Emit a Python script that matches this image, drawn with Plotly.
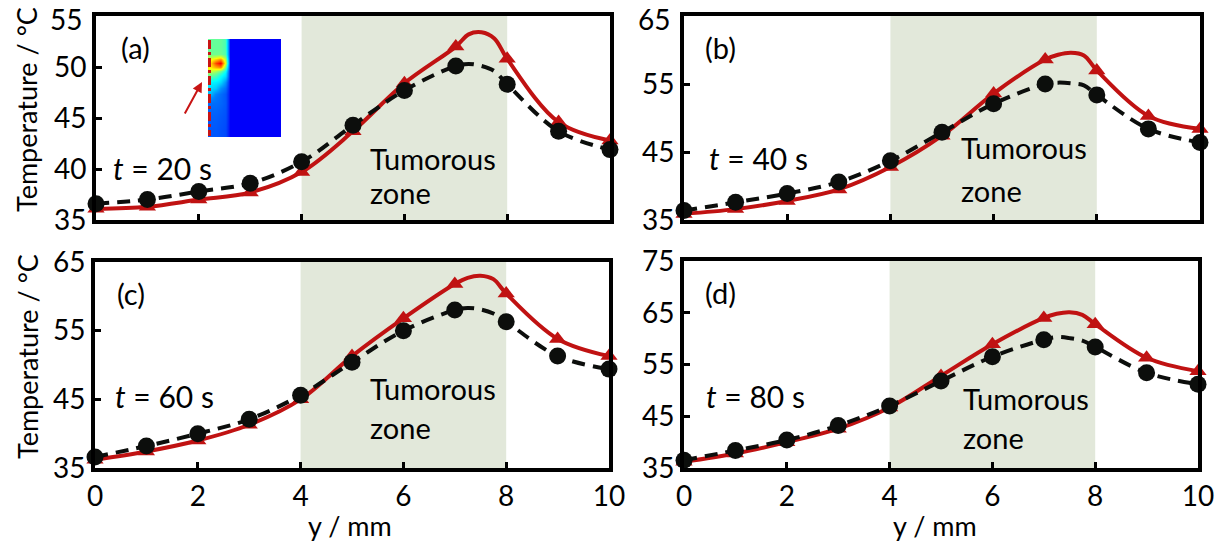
import plotly.graph_objects as go

W, H = 1218, 544

# ---------------- data ----------------
y_mm = [0, 1, 2, 3, 4, 5, 6, 7, 8, 9, 10]
peak_xs = [7.25, 7.5, 7.75]          # extra curve samples around the maximum

red_a = [36.1, 36.3, 37.0, 37.7, 39.7, 43.7, 48.4, 52.0, 50.8, 44.6, 42.8]
black_a = [36.6, 37.0, 37.8, 38.6, 40.7, 44.3, 47.7, 50.1, 48.3, 43.7, 41.9]
red_peak_a = [53.2, 53.4, 52.8]
black_peak_a = [50.3, 50.1, 49.6]

red_b = [35.9, 36.6, 37.8, 39.5, 42.8, 47.4, 53.6, 58.6, 57.0, 50.3, 48.4]
black_b = [36.4, 37.6, 38.9, 40.6, 43.7, 47.9, 52.1, 55.0, 53.4, 48.4, 46.4]
red_peak_b = [59.3, 59.6, 59.2]
black_peak_b = [55.2, 55.1, 54.8]

red_c = [36.2, 37.4, 39.0, 41.3, 45.0, 51.3, 56.8, 61.8, 60.4, 53.8, 51.3]
black_c = [36.6, 38.2, 40.0, 42.1, 45.6, 50.4, 55.0, 58.0, 56.3, 51.3, 49.4]
red_peak_c = [62.7, 63.0, 62.5]
black_peak_c = [58.3, 58.1, 57.5]

red_d = [36.2, 37.8, 40.0, 42.6, 46.7, 52.8, 58.9, 64.0, 62.8, 56.3, 53.7]
black_d = [36.5, 38.4, 40.4, 43.2, 47.0, 51.8, 56.5, 59.8, 58.4, 53.4, 51.2]
red_peak_d = [64.8, 65.1, 64.6]
black_peak_d = [60.3, 60.1, 59.6]

y_ranges = [[35, 55], [35, 65], [35, 65], [35, 75]]
y_ticks = [[35, 40, 45, 50, 55], [35, 45, 55, 65], [35, 45, 55, 65], [35, 45, 55, 65, 75]]
x_ticks = [0, 2, 4, 6, 8, 10]
tumor_zone = [4, 8]
panel_labels = ["(a)", "(b)", "(c)", "(d)"]
times = ["20", "40", "60", "80"]

# inset temperature field (normalised), cell edges in inset pixels
inset_x_edges = [0, 5, 10, 15, 20, 24, 73]
inset_y_edges = [0, 6, 12, 18, 22, 26, 30, 34, 40, 46, 52, 58, 70, 84, 98]
inset_field = [
    [0.45, 0.45, 0.45, 0.42, 0.0, 0.0],
    [0.45, 0.45, 0.45, 0.42, 0.0, 0.0],
    [0.46, 0.46, 0.46, 0.43, 0.0, 0.0],
    [0.58, 0.64, 0.70, 0.52, 0.0, 0.0],
    [0.64, 0.78, 0.86, 0.56, 0.0, 0.0],
    [0.62, 0.68, 0.72, 0.46, 0.0, 0.0],
    [0.55, 0.52, 0.46, 0.36, 0.0, 0.0],
    [0.44, 0.42, 0.36, 0.30, 0.0, 0.0],
    [0.34, 0.33, 0.30, 0.20, 0.0, 0.0],
    [0.30, 0.28, 0.20, 0.15, 0.0, 0.0],
    [0.25, 0.18, 0.15, 0.12, 0.0, 0.0],
    [0.15, 0.15, 0.14, 0.12, 0.0, 0.0],
    [0.13, 0.13, 0.12, 0.11, 0.0, 0.0],
    [0.12, 0.12, 0.11, 0.10, 0.0, 0.0],
]

reds = [red_a, red_b, red_c, red_d]
blacks = [black_a, black_b, black_c, black_d]
red_peaks = [red_peak_a, red_peak_b, red_peak_c, red_peak_d]
black_peaks = [black_peak_a, black_peak_b, black_peak_c, black_peak_d]

# ---------------- style ----------------
FONT = "Lato"
RED = "rgb(192,18,18)"
BLK = "rgb(12,14,12)"
SHADE = "rgb(226,232,218)"

def px_x(p):
    return p / W

def px_y(p):
    return 1 - p / H

# plot areas in pixels: (left, right, top, bottom)
boxes = [(96, 610, 16, 220), (684, 1200, 16, 220), (95, 609, 262, 468), (684, 1198, 261, 468)]

fig = go.Figure()
layout = dict(
    width=W, height=H, margin=dict(l=0, r=0, t=0, b=0, pad=0, autoexpand=False),
    autosize=False,
    paper_bgcolor="white", plot_bgcolor="white", showlegend=False,
    font=dict(family=FONT, size=28, color="black"),
    shapes=[], annotations=[],
)

for i in range(4):
    xa = "x" if i == 0 else f"x{i+1}"
    ya = "y" if i == 0 else f"y{i+1}"
    xk = "xaxis" if i == 0 else f"xaxis{i+1}"
    yk = "yaxis" if i == 0 else f"yaxis{i+1}"
    l, r, t, b = boxes[i]
    bottom = i >= 2
    top_row = i < 2
    # in the top row the uppermost tick label would touch the page edge:
    # it is written as a text placed flush with the top instead
    ytext = [str(v) for v in y_ticks[i]]
    if top_row:
        ytext[-1] = ""
        layout["annotations"].append(dict(
            text=str(y_ticks[i][-1]), xref="paper", yref="paper", x=px_x(l - 12), y=1,
            xanchor="right", yanchor="top", showarrow=False,
            font=dict(family=FONT, size=28, color="black")))
    layout[xk] = dict(
        domain=[px_x(l), px_x(r)], range=[0, 10], anchor=ya, automargin=False,
        tickvals=x_ticks, ticks="inside", ticklen=6, tickwidth=3, tickcolor="black",
        showticklabels=bottom, showline=True, linewidth=4, linecolor="black",
        mirror=True, showgrid=False, zeroline=False, ticklabeloverflow="allow",
        tickfont=dict(family=FONT, size=28, color="black"),
    )
    layout[yk] = dict(
        domain=[px_y(b), px_y(t)], range=y_ranges[i], anchor=xa, automargin=False,
        tickvals=y_ticks[i], ticktext=ytext, ticks="inside", ticklen=6, tickwidth=3,
        tickcolor="black", showline=True, linewidth=4, linecolor="black", mirror=True,
        showgrid=False, zeroline=False, ticklabeloverflow="allow",
        tickfont=dict(family=FONT, size=28, color="black"),
    )
    layout["shapes"].append(dict(
        type="rect", xref=xa, yref=f"{ya} domain", x0=tumor_zone[0], x1=tumor_zone[1],
        y0=0, y1=1, fillcolor=SHADE, line=dict(width=0), layer="below",
    ))

    line_x = y_mm[:8] + peak_xs + y_mm[8:]
    red_line = reds[i][:8] + red_peaks[i] + reds[i][8:]
    blk_line = blacks[i][:8] + black_peaks[i] + blacks[i][8:]

    fig.add_trace(go.Scatter(x=line_x, y=red_line, mode="lines", xaxis=xa, yaxis=ya,
                             line=dict(color=RED, width=4, shape="spline", smoothing=1.0),
                             cliponaxis=False))
    fig.add_trace(go.Scatter(x=y_mm, y=reds[i], mode="markers", xaxis=xa, yaxis=ya,
                             marker=dict(symbol="triangle-up", size=15, color=RED),
                             cliponaxis=False))
    fig.add_trace(go.Scatter(x=line_x, y=blk_line, mode="lines", xaxis=xa, yaxis=ya,
                             line=dict(color=BLK, width=4, shape="spline", smoothing=1.0,
                                       dash="13px,8px"),
                             cliponaxis=False))
    fig.add_trace(go.Scatter(x=y_mm, y=blacks[i], mode="markers", xaxis=xa, yaxis=ya,
                             marker=dict(symbol="circle", size=17, color=BLK),
                             cliponaxis=False))

lab_pos = [(135, 47), (720, 47), (131, 293), (720, 292)]
t_pos = [(111, 168), (707, 158), (113, 396), (704, 396)]
tum_pos = [(368, 159), (959, 148), (368, 388), (961, 398)]
zone_pos = [(368, 192), (959, 190), (368, 427), (961, 437)]
for i in range(4):
    layout["annotations"].append(dict(
        text=panel_labels[i], xref="paper", yref="paper", x=px_x(lab_pos[i][0]),
        y=px_y(lab_pos[i][1]), xanchor="center", yanchor="middle", showarrow=False,
        font=dict(family=FONT, size=29, color="black")))
    layout["annotations"].append(dict(
        text=f"<i>t</i> = {times[i]} s", xref="paper", yref="paper", x=px_x(t_pos[i][0]),
        y=px_y(t_pos[i][1]), xanchor="left", yanchor="middle", showarrow=False,
        font=dict(family=FONT, size=30, color="black")))
    for txt, pos in (("Tumorous", tum_pos[i]), ("zone", zone_pos[i])):
        layout["annotations"].append(dict(
            text=txt, xref="paper", yref="paper", x=px_x(pos[0]), y=px_y(pos[1]),
            xanchor="left", yanchor="middle", showarrow=False,
            font=dict(family=FONT, size=29, color="black")))

for yc in (110, 357):
    layout["annotations"].append(dict(
        text="Temperature / °C", xref="paper", yref="paper", x=px_x(27), y=px_y(yc),
        textangle=-90, xanchor="center", yanchor="middle", showarrow=False,
        font=dict(family=FONT, size=27, color="black")))
for xc in (350, 935):
    layout["annotations"].append(dict(
        text="y / mm", xref="paper", yref="paper", x=px_x(xc), y=px_y(525),
        xanchor="center", yanchor="middle", showarrow=False,
        font=dict(family=FONT, size=27, color="black")))

# inset heatmap
layout["xaxis5"] = dict(domain=[px_x(208), px_x(281)], anchor="y5", visible=False,
                        range=[0, 73], automargin=False)
layout["yaxis5"] = dict(domain=[px_y(137), px_y(39)], anchor="x5", visible=False,
                        range=[98, 0], automargin=False)
fig.add_trace(go.Heatmap(
    z=inset_field, x=inset_x_edges, y=inset_y_edges, xaxis="x5", yaxis="y5",
    zmin=0, zmax=1, zsmooth="best", showscale=False, hoverinfo="skip",
    colorscale=[[0, "rgb(0,0,250)"], [0.35, "rgb(0,255,255)"], [0.6, "rgb(255,255,0)"],
                [0.85, "rgb(255,0,0)"], [1, "rgb(140,0,0)"]],
))
layout["shapes"].append(dict(
    type="line", xref="paper", yref="paper", x0=px_x(209.5), x1=px_x(209.5),
    y0=px_y(40), y1=px_y(136), line=dict(color="rgb(200,20,20)", width=3, dash="dashdot"),
))
layout["annotations"].append(dict(
    text="", xref="paper", yref="paper", x=px_x(202), y=px_y(82), showarrow=True,
    ax=-18, ay=33, arrowhead=2, arrowsize=1, arrowwidth=2, arrowcolor="rgb(200,20,20)",
))

fig.update_layout(**layout)
fig.write_html("out.html")
